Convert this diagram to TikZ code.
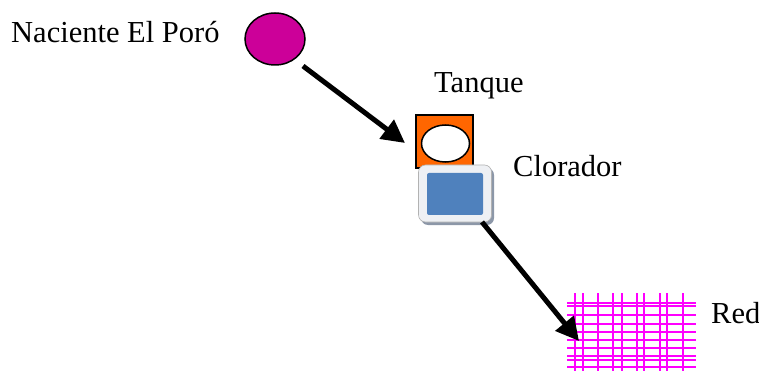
\documentclass[tikz,border=0pt]{standalone}
\usepackage{fontspec}
\setmainfont{Liberation Serif}
\usetikzlibrary{arrows.meta,shapes.geometric}
\definecolor{fuchsiaNode}{HTML}{CC0099}
\definecolor{tankOrange}{HTML}{FF6600}
\definecolor{clorBlue}{HTML}{4F81BD}
\definecolor{frameGray}{HTML}{EEF0F4}
\definecolor{shadowGray}{HTML}{8C97A8}
\definecolor{netMagenta}{HTML}{FF00FF}
\tikzset{
  lbl/.style={anchor=base west, inner sep=0pt, font=\fontsize{30.5}{36}\selectfont},
  flow/.style={line width=5pt, -{Triangle[length=23pt,width=23pt]}},
  netline/.style={netMagenta, line width=2.2pt},
}
\begin{document}
\begin{tikzpicture}[x=1pt,y=-1pt]
\useasboundingbox (0,0) rectangle (759,371);
% source
\node[draw=black, line width=1.5pt, fill=fuchsiaNode, ellipse, minimum width=60pt, minimum height=52pt, inner sep=0pt] (src) at (275,39) {};
\node[lbl] (srcl) at (11,43) {Naciente El Poró};
% tank
\node[draw=black, line width=1.2pt, fill=tankOrange, minimum width=57pt, minimum height=53pt, inner sep=0pt] (tank) at (444.5,141.5) {};
\node[draw=black, line width=1.5pt, fill=white, ellipse, minimum width=48pt, minimum height=37pt, inner sep=0pt] (tanki) at (445.5,143.5) {};
\node[lbl] (tankl) at (434,93) {Tanque};
% clorador
\fill[shadowGray, rounded corners=7pt] (421,168) rectangle (494,225);
\node[draw=gray!60, line width=0.6pt, fill=frameGray, rounded corners=7pt, minimum width=73pt, minimum height=57pt, inner sep=0pt] (clor) at (455,193.5) {};
\node[fill=clorBlue, rounded corners=2pt, minimum width=56pt, minimum height=42pt, inner sep=0pt] (clori) at (455,194) {};
\node[lbl] (clorl) at (513,177) {Clorador};
% network
\coordinate (netc) at (632,332);
\foreach \x in {575,583,598,613,622,637,644,660,667,683}
  \draw[netline] (\x,293) -- (\x,371);
\foreach \y in {303,306,315,324,332,340,348,356,360,367}
  \draw[netline] (567,\y) -- (696,\y);
\node[lbl] (redl) at (711,323) {Red};
% connectors
\coordinate (a1s) at (303,66);
\coordinate (a1e) at (405,143);
\coordinate (a2s) at (482,222);
\coordinate (a2e) at (579,341);
\draw[flow] (a1s) -- (a1e);
\draw[flow] (a2s) -- (a2e);
\end{tikzpicture}
\end{document}
